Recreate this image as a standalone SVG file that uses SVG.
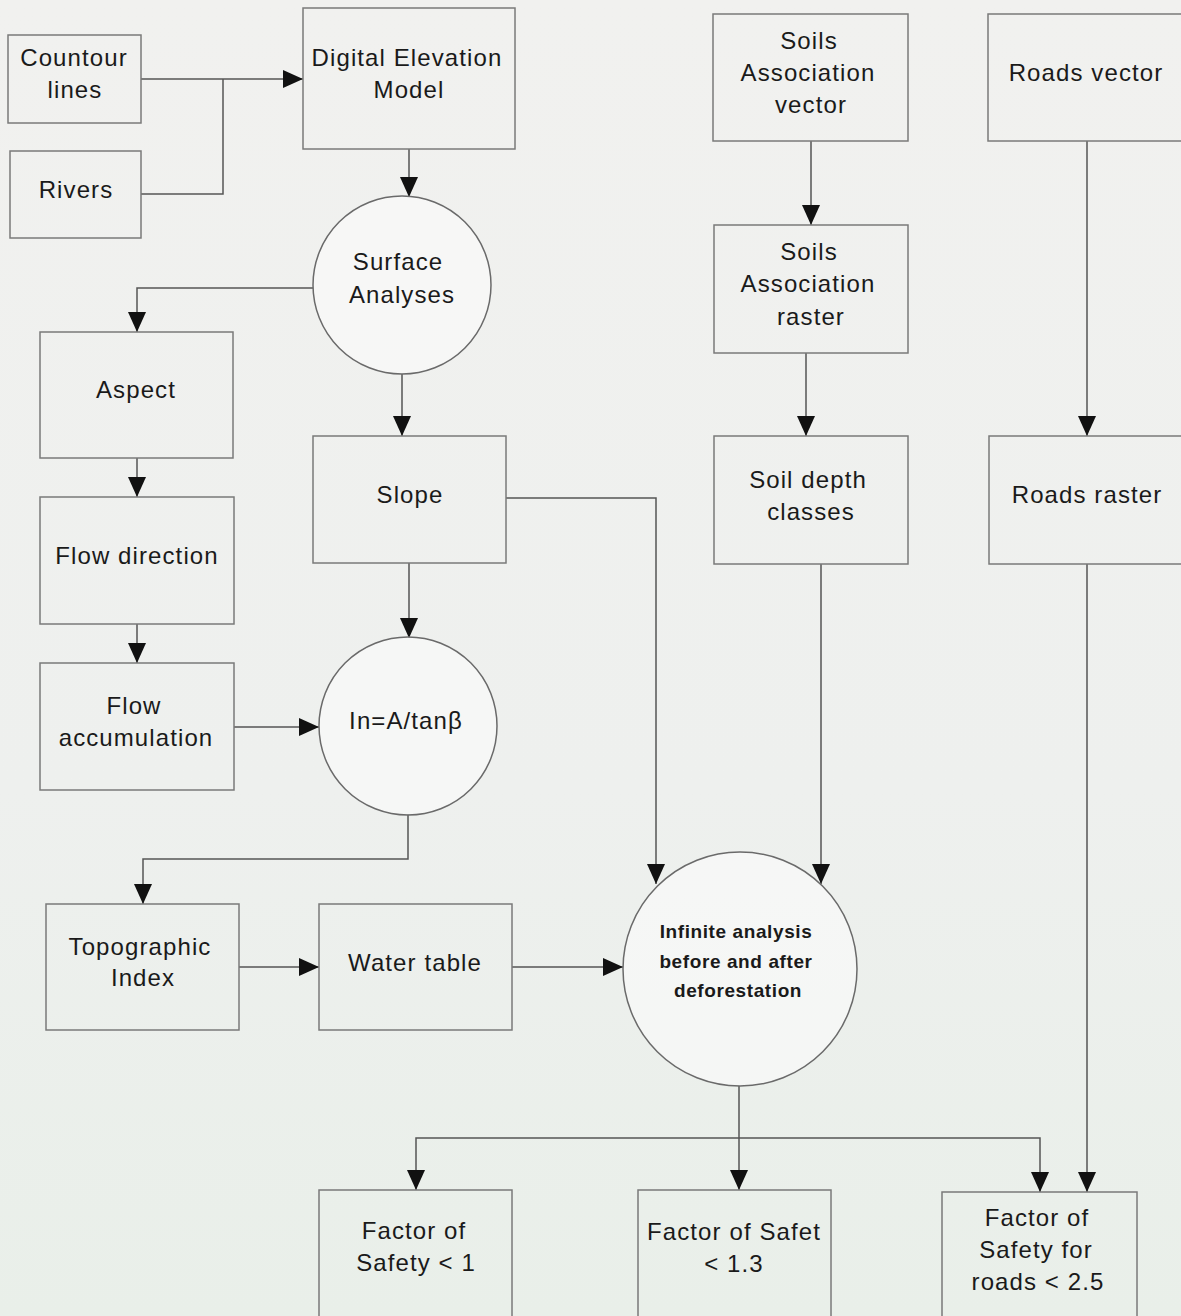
<svg xmlns="http://www.w3.org/2000/svg" width="1181" height="1316" viewBox="0 0 1181 1316">
<defs>
<marker id="arr" viewBox="0 0 20 18" refX="20" refY="9" markerWidth="20" markerHeight="18" markerUnits="userSpaceOnUse" orient="auto">
<path d="M0,0 L20,9 L0,18 Z" fill="#111"/>
</marker>
<linearGradient id="bg" x1="0" y1="0" x2="0" y2="1">
<stop offset="0" stop-color="#f1f1ef"/>
<stop offset="0.6" stop-color="#eef0ee"/>
<stop offset="1" stop-color="#e9efe9"/>
</linearGradient>
<style>
.box{fill:none;stroke:#7a7a7a;stroke-width:1.5}
.circ{fill:#fafafa;fill-opacity:0.7;stroke:#6a6a6a;stroke-width:1.5}
.t{font-family:"Liberation Sans",Arial,sans-serif;font-size:24px;fill:#1a1a1a;text-anchor:middle;letter-spacing:1.1px}
.ts{font-family:"Liberation Sans",Arial,sans-serif;font-size:19px;font-weight:bold;fill:#1a1a1a;text-anchor:middle;letter-spacing:0.6px}
.c{fill:none;stroke:#555;stroke-width:1.5}
.ca{fill:none;stroke:#555;stroke-width:1.5;marker-end:url(#arr)}
</style>
</defs>
<rect x="0" y="0" width="1181" height="1316" fill="url(#bg)"/>

<g id="connectors">
<path class="ca" d="M141,79 H303"/>
<path class="c" d="M141,194 H223 V79"/>
<path class="ca" d="M409,149 V197"/>
<path class="ca" d="M313,288 H137 V332"/>
<path class="ca" d="M402,374 V436"/>
<path class="ca" d="M137,458 V497"/>
<path class="ca" d="M137,624 V663"/>
<path class="ca" d="M409,563 V638"/>
<path class="ca" d="M234,727 H319"/>
<path class="ca" d="M408,814 V859 H143 V904"/>
<path class="ca" d="M239,967 H319"/>
<path class="ca" d="M512,967 H623"/>
<path class="ca" d="M506,498 H656 V884"/>
<path class="ca" d="M821,564 V884"/>
<path class="ca" d="M811,141 V225"/>
<path class="ca" d="M806,353 V436"/>
<path class="ca" d="M1087,141 V436"/>
<path class="ca" d="M1087,564 V1192"/>
<path class="ca" d="M739,1086 V1190"/>
<path class="ca" d="M739,1138 H416 V1190"/>
<path class="ca" d="M739,1138 H1040 V1192"/>
</g>

<g id="countour-lines"><rect class="box" x="8" y="35" width="133" height="88"/>
<text class="t" x="74" y="66">Countour</text><text class="t" x="75" y="98">lines</text></g>

<g id="rivers"><rect class="box" x="10" y="151" width="131" height="87"/>
<text class="t" x="76" y="198">Rivers</text></g>

<g id="dem"><rect class="box" x="303" y="8" width="212" height="141"/>
<text class="t" x="407" y="66">Digital Elevation</text><text class="t" x="409" y="98">Model</text></g>

<g id="surface-analyses"><circle class="circ" cx="402" cy="285" r="89"/>
<text class="t" x="398" y="270">Surface</text><text class="t" x="402" y="303">Analyses</text></g>

<g id="aspect"><rect class="box" x="40" y="332" width="193" height="126"/>
<text class="t" x="136" y="398">Aspect</text></g>

<g id="slope"><rect class="box" x="313" y="436" width="193" height="127"/>
<text class="t" x="410" y="503">Slope</text></g>

<g id="flow-direction"><rect class="box" x="40" y="497" width="194" height="127"/>
<text class="t" x="137" y="564">Flow direction</text></g>

<g id="flow-accumulation"><rect class="box" x="40" y="663" width="194" height="127"/>
<text class="t" x="134" y="714">Flow</text><text class="t" x="136" y="746">accumulation</text></g>

<g id="index-formula"><circle class="circ" cx="408" cy="726" r="89"/>
<text class="t" x="406" y="729">In=A/tanβ</text></g>

<g id="topographic-index"><rect class="box" x="46" y="904" width="193" height="126"/>
<text class="t" x="140" y="955">Topographic</text><text class="t" x="143" y="986">Index</text></g>

<g id="water-table"><rect class="box" x="319" y="904" width="193" height="126"/>
<text class="t" x="415" y="971">Water table</text></g>

<g id="infinite-analysis"><circle class="circ" cx="740" cy="969" r="117"/>
<text class="ts" x="736" y="938">Infinite analysis</text><text class="ts" x="736" y="968">before and after</text><text class="ts" x="738" y="997">deforestation</text></g>

<g id="soils-vector"><rect class="box" x="713" y="14" width="195" height="127"/>
<text class="t" x="809" y="49">Soils</text><text class="t" x="808" y="81">Association</text><text class="t" x="811" y="113">vector</text></g>

<g id="soils-raster"><rect class="box" x="714" y="225" width="194" height="128"/>
<text class="t" x="809" y="260">Soils</text><text class="t" x="808" y="292">Association</text><text class="t" x="811" y="325">raster</text></g>

<g id="soil-depth"><rect class="box" x="714" y="436" width="194" height="128"/>
<text class="t" x="808" y="488">Soil depth</text><text class="t" x="811" y="520">classes</text></g>

<g id="roads-vector"><rect class="box" x="988" y="14" width="200" height="127"/>
<text class="t" x="1086" y="81">Roads vector</text></g>

<g id="roads-raster"><rect class="box" x="989" y="436" width="200" height="128"/>
<text class="t" x="1087" y="503">Roads raster</text></g>

<g id="fos-1"><rect class="box" x="319" y="1190" width="193" height="130"/>
<text class="t" x="414" y="1239">Factor of</text><text class="t" x="416" y="1271">Safety &lt; 1</text></g>

<g id="fos-1-3"><rect class="box" x="638" y="1190" width="193" height="130"/>
<text class="t" x="734" y="1240">Factor of Safet</text><text class="t" x="734" y="1272">&lt; 1.3</text></g>

<g id="fos-roads"><rect class="box" x="942" y="1192" width="195" height="128"/>
<text class="t" x="1037" y="1226">Factor of</text><text class="t" x="1036" y="1258">Safety for</text><text class="t" x="1038" y="1290">roads &lt; 2.5</text></g>
</svg>
